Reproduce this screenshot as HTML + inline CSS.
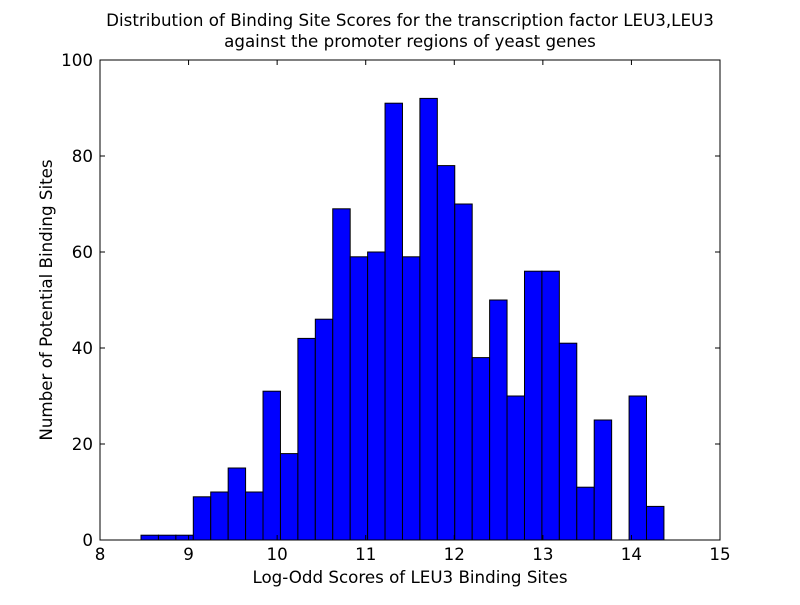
<!DOCTYPE html>
<html><head><meta charset="utf-8"><style>
body{margin:0;background:#fff;}
svg text{font-family:"DejaVu Sans","Liberation Sans",sans-serif;fill:#000;}
</style></head><body>
<svg id="chart" width="800" height="600" viewBox="0 0 800 600">
<rect width="800" height="600" fill="#fff"/>
<text x="410" y="26" font-size="16.7" text-anchor="middle">Distribution of Binding Site Scores for the transcription factor LEU3,LEU3</text>
<text x="410" y="47" font-size="16.7" text-anchor="middle">against the promoter regions of yeast genes</text>
<g id="bars"></g>
<g id="axes"></g>
<text x="410" y="583" font-size="16.7" text-anchor="middle">Log-Odd Scores of LEU3 Binding Sites</text>
<text transform="translate(52,300) rotate(-90)" font-size="16.7" text-anchor="middle">Number of Potential Binding Sites</text>
</svg>
<script>
const binStart = 8.463;
const binWidth = 0.1968;
const counts = [1,1,1,9,10,15,10,31,18,42,46,69,59,60,91,59,92,78,70,38,50,30,56,56,41,11,25,0,30,7];
const xTicks = [8,9,10,11,12,13,14,15];
const yTicks = [0,20,40,60,80,100];

const L=100,R=720,T=60,B=540;
const xs=v=>L+(v-8)/(15-8)*(R-L);
const ys=v=>B-(v/100)*(B-T);
const NS="http://www.w3.org/2000/svg";
function mk(tag,attrs,parent){const e=document.createElementNS(NS,tag);for(const k in attrs)e.setAttribute(k,attrs[k]);parent.appendChild(e);return e;}
const bars=document.getElementById('bars'), axes=document.getElementById('axes');
counts.forEach((c,i)=>{
  if(c<=0) return;
  const x0=xs(binStart+i*binWidth), x1=xs(binStart+(i+1)*binWidth);
  const r=mk('rect',{x:x0,y:ys(c),width:x1-x0,height:ys(0)-ys(c),fill:'#0000ff',stroke:'#000','stroke-width':1},bars);
  
  
});
const frame=mk('rect',{x:L,y:T,width:R-L,height:B-T,fill:'none',stroke:'#000','stroke-width':1},axes);


xTicks.forEach(t=>{
  const x=xs(t);
  mk('line',{x1:x,x2:x,y1:B,y2:B-5,stroke:'#000'},axes);
  mk('line',{x1:x,x2:x,y1:T,y2:T+5,stroke:'#000'},axes);
  const tx=mk('text',{x:x,y:B+20,'font-size':16.7,'text-anchor':'middle'},axes);
  tx.textContent=t;
  
  
});
yTicks.forEach(t=>{
  const y=ys(t);
  mk('line',{x1:L,x2:L+5,y1:y,y2:y,stroke:'#000'},axes);
  mk('line',{x1:R,x2:R-5,y1:y,y2:y,stroke:'#000'},axes);
  const tx=mk('text',{x:L-7,y:y+6,'font-size':16.7,'text-anchor':'end'},axes);
  tx.textContent=t;
  
  
});
</script>
</body></html>
